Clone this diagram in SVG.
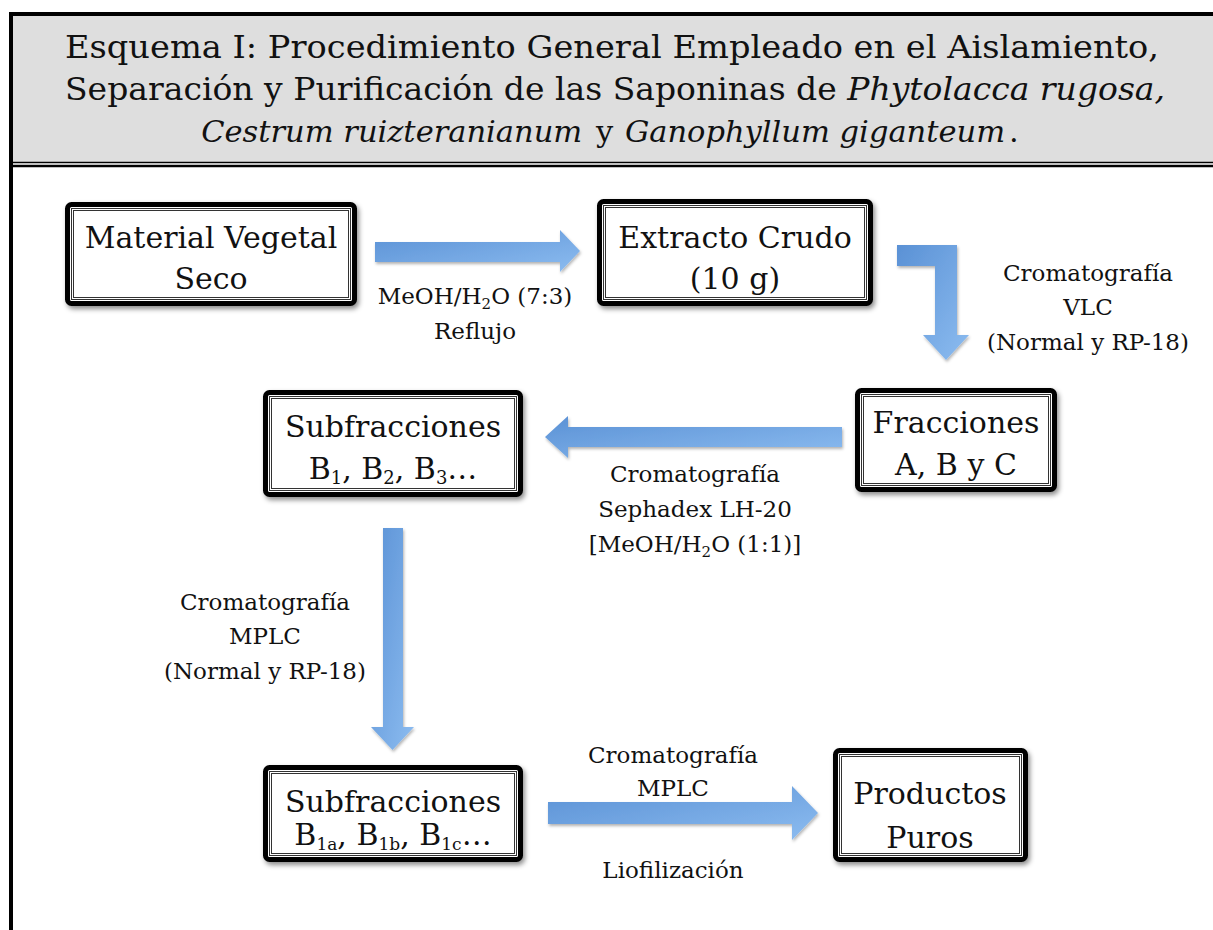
<svg xmlns="http://www.w3.org/2000/svg" width="1213" height="930" viewBox="0 0 1213 930">
<defs>
<linearGradient id="blue" x1="0" y1="0" x2="1" y2="1">
<stop offset="0" stop-color="#5a91d5"/>
<stop offset="1" stop-color="#8cbcf0"/>
</linearGradient>
<filter id="sh" x="-10%" y="-10%" width="125%" height="130%">
<feDropShadow dx="2" dy="3" stdDeviation="2.5" flood-color="#000" flood-opacity="0.45"/>
</filter>
<filter id="ash" x="-10%" y="-10%" width="125%" height="130%">
<feDropShadow dx="1" dy="2" stdDeviation="1.5" flood-color="#000" flood-opacity="0.3"/>
</filter>
</defs>
<style>
.outer{fill:#fff;stroke:#000;stroke-width:5;filter:url(#sh)}
.in1,.in2{fill:none;stroke:#333;stroke-width:1}
.bt{font-family:"DejaVu Serif","Liberation Serif",serif;font-size:30px;fill:#111;text-anchor:middle}
.lb{font-family:"DejaVu Serif","Liberation Serif",serif;font-size:23px;fill:#111;text-anchor:middle}
.tt{font-family:"DejaVu Serif","Liberation Serif",serif;font-size:32px;fill:#111;text-anchor:middle}
.it{font-style:italic}
.arr{fill:url(#blue);filter:url(#ash)}
</style>
<rect width="1213" height="930" fill="#fff"/>
<g id="header">
<rect x="11" y="14" width="1202" height="148" fill="#dedede"/>
<line x1="9" y1="14" x2="1213" y2="14" stroke="#000" stroke-width="4"/>
<line x1="13" y1="162.5" x2="1213" y2="162.5" stroke="#000" stroke-width="1.5"/>
<line x1="13" y1="166" x2="1213" y2="166" stroke="#000" stroke-width="2.5"/>
<line x1="11" y1="12" x2="11" y2="930" stroke="#000" stroke-width="4"/>
<text class="tt" x="612" y="58" textLength="1094" lengthAdjust="spacingAndGlyphs">Esquema I: Procedimiento General Empleado en el Aislamiento,</text>
<text class="tt" x="615" y="100" textLength="1100" lengthAdjust="spacingAndGlyphs">Separación y Purificación de las Saponinas de <tspan class="it">Phytolacca rugosa,</tspan></text>
<text class="tt" x="610" y="142" style="font-size:30.5px"><tspan class="it">Cestrum ruizteranianum</tspan> <tspan dx="4">y</tspan> <tspan class="it" dx="2">Ganophyllum giganteum</tspan><tspan dx="4">.</tspan></text>
</g>
<g id="connectors">
<polygon class="arr" points="375,242 560,242 560,230 580,251 560,272 560,262 375,262"/>
<polygon class="arr" points="897,245 957,245 957,335 969,335 946,360 923,335 935,335 935,266 897,266"/>
<polygon class="arr" points="545,437 568,416 568,427 842,427 842,447 568,447 568,458"/>
<polygon class="arr" points="383,528 403,528 403,727 414,727 392.5,750 371,727 383,727"/>
<polygon class="arr" points="548,802 792,802 792,786 818,813 792,840 792,824 548,824"/>
<text class="lb" x="475" y="304">MeOH/H<tspan font-size="15" dy="5">2</tspan><tspan dy="-5">O (7:3)</tspan></text>
<text class="lb" x="475" y="339">Reflujo</text>
<text class="lb" x="1088" y="281">Cromatografía</text>
<text class="lb" x="1088" y="315">VLC</text>
<text class="lb" x="1088" y="350">(Normal y RP-18)</text>
<text class="lb" x="695" y="482">Cromatografía</text>
<text class="lb" x="695" y="517">Sephadex LH-20</text>
<text class="lb" x="695" y="552">[MeOH/H<tspan font-size="15" dy="5">2</tspan><tspan dy="-5">O (1:1)]</tspan></text>
<text class="lb" x="265" y="610">Cromatografía</text>
<text class="lb" x="265" y="644">MPLC</text>
<text class="lb" x="265" y="679">(Normal y RP-18)</text>
<text class="lb" x="673" y="763">Cromatografía</text>
<text class="lb" x="673" y="796">MPLC</text>
<text class="lb" x="673" y="878">Liofilización</text>
</g>
<g id="n1">
<rect class="outer" x="67.5" y="204.5" width="287" height="99" rx="4"/>
<rect class="in1" x="71.5" y="208.5" width="279" height="91"/>
<rect class="in2" x="73.5" y="210.5" width="275" height="87"/>
<text class="bt" x="211" y="248">Material Vegetal</text>
<text class="bt" x="211" y="289">Seco</text>
</g>
<g id="n2">
<rect class="outer" x="599.5" y="201.5" width="271" height="102" rx="4"/>
<rect class="in1" x="603.5" y="205.5" width="263" height="94"/>
<rect class="in2" x="605.5" y="207.5" width="259" height="90"/>
<text class="bt" x="735" y="248">Extracto Crudo</text>
<text class="bt" x="735" y="289">(10 g)</text>
</g>
<g id="n3">
<rect class="outer" x="857.5" y="390.5" width="197" height="99" rx="4"/>
<rect class="in1" x="861.5" y="394.5" width="189" height="91"/>
<rect class="in2" x="863.5" y="396.5" width="185" height="87"/>
<text class="bt" x="956" y="433">Fracciones</text>
<text class="bt" x="956" y="475">A, B y C</text>
</g>
<g id="n4">
<rect class="outer" x="265.5" y="392.5" width="255" height="102" rx="4"/>
<rect class="in1" x="269.5" y="396.5" width="247" height="94"/>
<rect class="in2" x="271.5" y="398.5" width="243" height="90"/>
<text class="bt" x="393" y="437">Subfracciones</text>
<text class="bt" x="393" y="479">B<tspan font-size="18" dy="5">1</tspan><tspan dy="-5">, B</tspan><tspan font-size="18" dy="5">2</tspan><tspan dy="-5">, B</tspan><tspan font-size="18" dy="5">3</tspan><tspan dy="-5">…</tspan></text>
</g>
<g id="n5">
<rect class="outer" x="265.5" y="767.5" width="255" height="92" rx="4"/>
<rect class="in1" x="269.5" y="771.5" width="247" height="84"/>
<rect class="in2" x="271.5" y="773.5" width="243" height="80"/>
<text class="bt" x="393" y="812">Subfracciones</text>
<text class="bt" x="393" y="845">B<tspan font-size="17" dy="5">1a</tspan><tspan dy="-5">, B</tspan><tspan font-size="17" dy="5">1b</tspan><tspan dy="-5">, B</tspan><tspan font-size="17" dy="5">1c</tspan><tspan dy="-5">…</tspan></text>
</g>
<g id="n6">
<rect class="outer" x="835.5" y="750.5" width="190" height="109" rx="4"/>
<rect class="in1" x="839.5" y="754.5" width="182" height="101"/>
<rect class="in2" x="841.5" y="756.5" width="178" height="97"/>
<text class="bt" x="930" y="804">Productos</text>
<text class="bt" x="930" y="848">Puros</text>
</g>
</svg>
